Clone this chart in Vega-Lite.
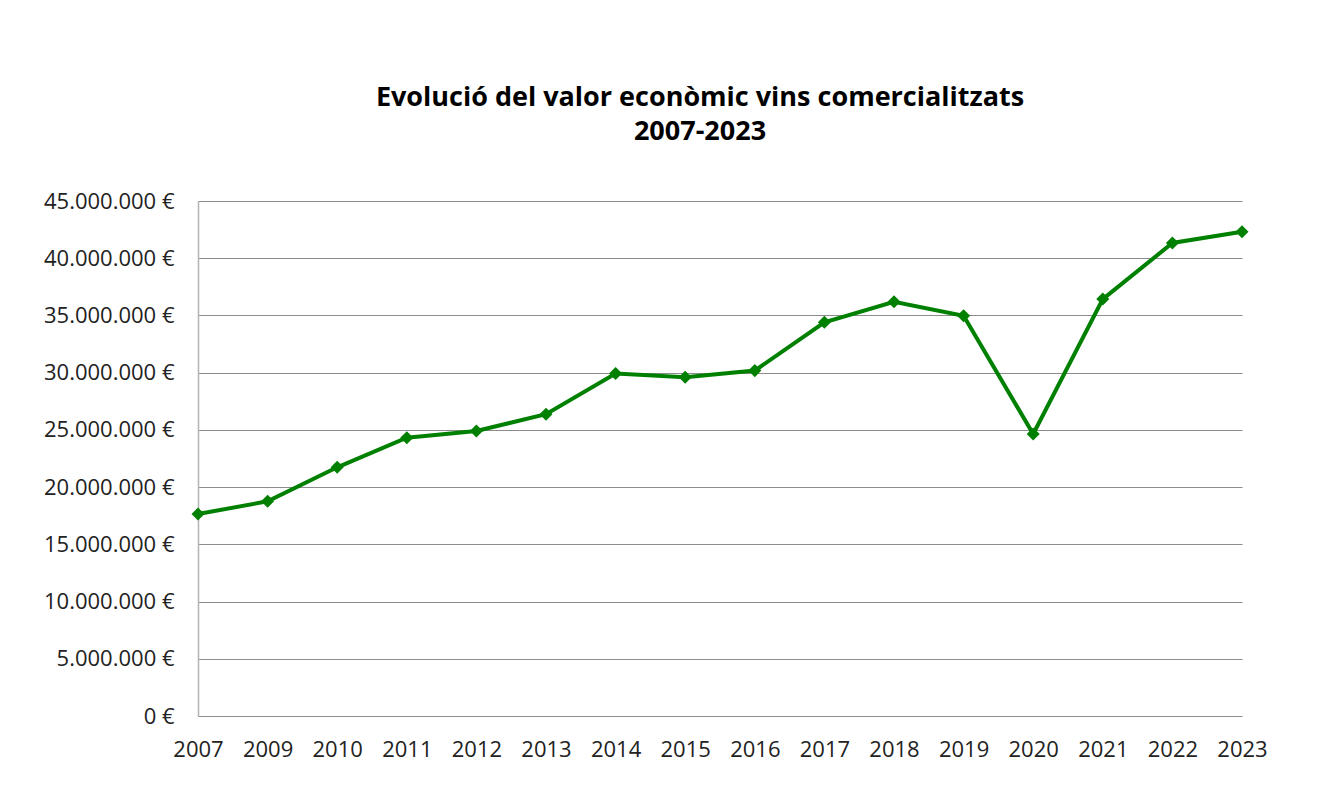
{
  "$schema": "https://vega.github.io/schema/vega-lite/v6.json",
  "autosize": "none",
  "width": 1044,
  "height": 515,
  "padding": {"left": 198, "top": 201, "right": 90, "bottom": 87},
  "background": "white",
  "title": {
    "text": ["Evolució del valor econòmic vins comercialitzats", "2007-2023"],
    "font": "Open Sans",
    "fontSize": 27,
    "fontWeight": "bold",
    "color": "#000000",
    "lineHeight": 34,
    "anchor": "middle",
    "frame": "group",
    "dx": -20,
    "offset": 44
  },
  "data": {
    "values": [
      {"year": "2007", "value": 17650000},
      {"year": "2009", "value": 18760000},
      {"year": "2010", "value": 21730000},
      {"year": "2011", "value": 24320000},
      {"year": "2012", "value": 24910000},
      {"year": "2013", "value": 26370000},
      {"year": "2014", "value": 29920000},
      {"year": "2015", "value": 29600000},
      {"year": "2016", "value": 30180000},
      {"year": "2017", "value": 34400000},
      {"year": "2018", "value": 36200000},
      {"year": "2019", "value": 34970000},
      {"year": "2020", "value": 24640000},
      {"year": "2021", "value": 36430000},
      {"year": "2022", "value": 41330000},
      {"year": "2023", "value": 42320000}
    ]
  },
  "config": {
    "view": {"stroke": null},
    "font": "Open Sans"
  },
  "encoding": {
    "x": {
      "field": "year",
      "type": "ordinal",
      "scale": {"type": "point", "padding": 0},
      "axis": {
        "title": null,
        "labelAngle": 0,
        "labelFont": "Open Sans",
        "labelFontSize": 22,
        "labelColor": "#222222",
        "labelPadding": 23,
        "ticks": false,
        "domain": false,
        "grid": false
      }
    },
    "y": {
      "field": "value",
      "type": "quantitative",
      "scale": {"domain": [0, 45000000], "nice": false},
      "axis": {
        "title": null,
        "values": [0, 5000000, 10000000, 15000000, 20000000, 25000000, 30000000, 35000000, 40000000, 45000000],
        "labelExpr": "replace(format(datum.value, ',.0f'), /,/g, '.') + ' €'",
        "labelFont": "Open Sans",
        "labelFontSize": 22,
        "labelColor": "#222222",
        "labelPadding": 24,
        "ticks": false,
        "domain": true,
        "domainColor": "#b3b3b3",
        "domainWidth": 1.5,
        "grid": true,
        "gridColor": "#8c8c8c",
        "gridWidth": 1,
        "gridOpacity": 1
      }
    }
  },
  "layer": [
    {
      "mark": {"type": "line", "color": "#008000", "strokeWidth": 4}
    },
    {
      "mark": {"type": "point", "shape": "diamond", "filled": true, "color": "#008000", "opacity": 1, "size": 170}
    }
  ]
}
